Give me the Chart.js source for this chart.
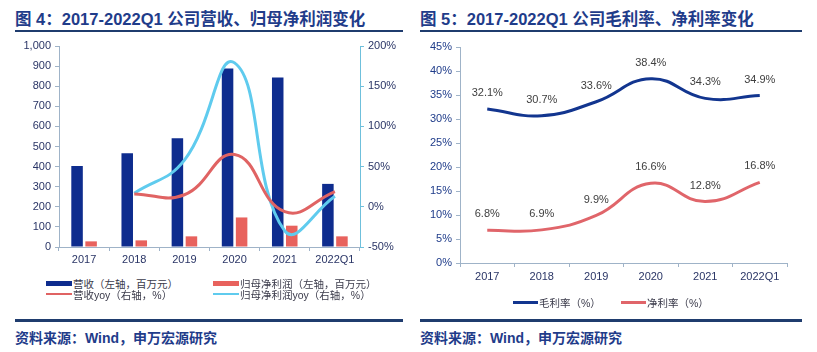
<!DOCTYPE html>
<html>
<head>
<meta charset="utf-8">
<script src="https://cdn.jsdelivr.net/npm/chart.js@4/dist/chart.umd.min.js"></script>
<style>
  body{margin:0;width:817px;height:352px;background:#fff;position:relative;overflow:hidden;
    font-family:"Liberation Sans","Noto Sans CJK SC",sans-serif;}
  .ttl{position:absolute;top:6px;font:bold 16.5px "Liberation Sans","Noto Sans CJK SC",sans-serif;color:#1f3c8a;white-space:nowrap}
  .rule{position:absolute;background:#1f3c6e}
  .src{position:absolute;top:327px;font:bold 14px "Liberation Sans","Noto Sans CJK SC",sans-serif;color:#1f3c8a;white-space:nowrap}
  .box{position:absolute}
  .lg{position:absolute;font:10.5px "Liberation Sans","Noto Sans CJK SC",sans-serif;color:#3a3a4a;white-space:nowrap;display:flex;align-items:center;height:12px}
  .lg i{display:inline-block;width:26px;margin-right:1px}
</style>
</head>
<body>
<div class="ttl" style="left:15px">图 4：2017-2022Q1 公司营收、归母净利润变化</div>
<div class="rule" style="left:15px;top:30px;width:388px;height:2px"></div>
<div class="ttl" style="left:420px">图 5：2017-2022Q1 公司毛利率、净利率变化</div>
<div class="rule" style="left:420px;top:30px;width:382px;height:2px"></div>

<div class="box" style="left:0;top:35px;width:410px;height:240px"><canvas id="c1"></canvas></div>
<div class="box" style="left:405px;top:35px;width:412px;height:250px"><canvas id="c2"></canvas></div>

<div class="lg" style="left:46px;top:277px"><i style="height:5px;background:#0e2c8e"></i>营收（左轴，百万元）</div>
<div class="lg" style="left:213px;top:277px"><i style="height:5px;background:#e8625d"></i>归母净利润（左轴，百万元）</div>
<div class="lg" style="left:46px;top:288px"><i style="height:2px;background:#e06363"></i>营收yoy（右轴，%）</div>
<div class="lg" style="left:213px;top:288px"><i style="height:2px;background:#5fcbee"></i>归母净利润yoy（右轴，%）</div>

<div class="lg" style="left:513px;top:296px"><i style="width:25px;height:3px;background:#12358f"></i>毛利率（%）</div>
<div class="lg" style="left:621px;top:296px"><i style="width:25px;height:3px;background:#e0656a"></i>净利率（%）</div>

<div class="rule" style="left:15px;top:319px;width:388px;height:3px"></div>
<div class="rule" style="left:420px;top:319px;width:382px;height:3px"></div>
<div class="src" style="left:15px">资料来源：Wind，申万宏源研究</div>
<div class="src" style="left:420px">资料来源：Wind，申万宏源研究</div>

<script>
const years=['2017','2018','2019','2020','2021','2022Q1'];
const revenue=[403,466,541,888,843,314];
const netProfit=[28,33,53,147,106,53];
const revYoy=[null,16,15,65,-6,19];
const profitYoy=[null,17,58,179,-30,13];
const grossMargin=[32.1,30.7,33.6,38.4,34.3,34.9];
const netMargin=[6.8,6.9,9.9,16.6,12.8,16.8];

Chart.defaults.font={family:'"Liberation Sans","Noto Sans CJK SC",sans-serif',size:11};
Chart.defaults.color='#2a3566';

const axisCol='#9fb3c8';

new Chart(document.getElementById('c1'),{
  type:'bar',
  data:{labels:years,datasets:[
    {type:'line',data:revYoy,yAxisID:'y1',borderColor:'#e06363',borderWidth:3,tension:0.45,pointRadius:0,fill:false,order:0},
    {type:'line',data:profitYoy,yAxisID:'y1',borderColor:'#5fcbee',borderWidth:3,tension:0.45,pointRadius:0,fill:false,order:0},
    {data:revenue,yAxisID:'y',backgroundColor:'#0e2c8e',categoryPercentage:0.56,barPercentage:0.82,order:1},
    {data:netProfit,yAxisID:'y',backgroundColor:'#e8625d',categoryPercentage:0.56,barPercentage:0.82,order:1}
  ]},
  options:{responsive:true,maintainAspectRatio:false,animation:false,
    layout:{padding:{top:11,left:0,right:0,bottom:0}},
    plugins:{legend:{display:false},tooltip:{enabled:false}},
    scales:{
      x:{grid:{drawOnChartArea:false,tickLength:4,color:axisCol},border:{color:axisCol},
        ticks:{padding:2,color:'#2a3566'},afterFit:s=>{s.height=28;}},
      y:{min:0,max:1000,ticks:{stepSize:100,padding:4,color:'#2a3566'},
        grid:{drawOnChartArea:false,tickLength:4,color:axisCol},border:{color:axisCol},
        afterFit:s=>{s.width=59;}},
      y1:{position:'right',min:-50,max:200,ticks:{stepSize:50,padding:4,color:'#2a3566',callback:v=>v+'%'},
        grid:{drawOnChartArea:false,tickLength:4,color:'#6fc0dc'},border:{color:'#6fc0dc'},
        afterFit:s=>{s.width=50;}}
    }
  }
});

const pointLabels={
  id:'pointLabels',
  afterDatasetsDraw(chart){
    const ctx=chart.ctx;
    ctx.save();
    ctx.font='11px "Liberation Sans",sans-serif';
    ctx.fillStyle='#404040';
    ctx.textAlign='center';
    ctx.textBaseline='middle';
    chart.data.datasets.forEach((ds,i)=>{
      chart.getDatasetMeta(i).data.forEach((pt,j)=>{
        ctx.fillText(ds.data[j].toFixed(1)+'%',pt.x,pt.y-16);
      });
    });
    ctx.restore();
  }
};

new Chart(document.getElementById('c2'),{
  type:'line',
  data:{labels:years,datasets:[
    {data:grossMargin,borderColor:'#12358f',borderWidth:3,tension:0.45,pointRadius:0,fill:false},
    {data:netMargin,borderColor:'#e0656a',borderWidth:3,tension:0.45,pointRadius:0,fill:false}
  ]},
  options:{responsive:true,maintainAspectRatio:false,animation:false,
    layout:{padding:{top:12,left:0,right:30,bottom:0}},
    plugins:{legend:{display:false},tooltip:{enabled:false}},
    scales:{
      x:{offset:true,grid:{offset:true,drawOnChartArea:false,tickLength:4,color:axisCol},border:{color:axisCol},
        ticks:{padding:3,color:'#2a3566'},afterFit:s=>{s.height=22;}},
      y:{min:0,max:45,ticks:{stepSize:5,padding:4,color:'#1f3c8a',callback:v=>v+'%'},
        grid:{drawOnChartArea:false,tickLength:4,color:axisCol},border:{color:axisCol},
        afterFit:s=>{s.width=55;}}
    }
  },
  plugins:[pointLabels]
});
</script>
</body>
</html>
